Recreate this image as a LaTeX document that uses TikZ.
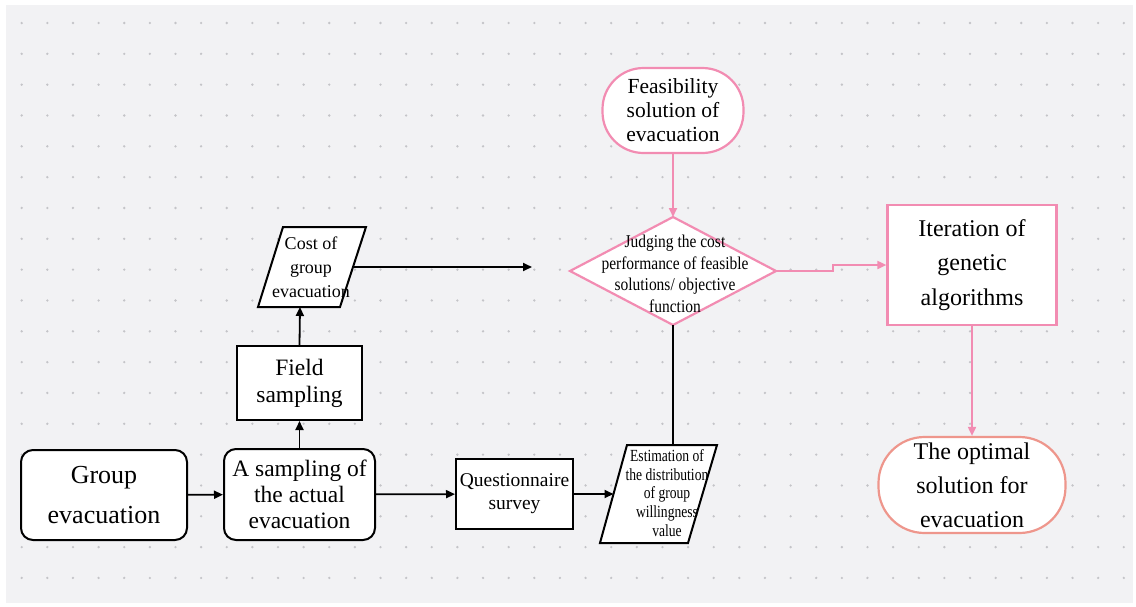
\documentclass[tikz,border=0pt]{standalone}
\usepackage{fontspec}
\setmainfont{Liberation Serif}
\newfontfamily\condfont{Liberation Serif}[FakeStretch=0.86]
\newfontfamily\narrowfont{Liberation Serif}[FakeStretch=0.8]
\usetikzlibrary{arrows.meta,calc}
\definecolor{bgc}{RGB}{242,242,244}
\definecolor{dotc}{RGB}{196,196,200}
\definecolor{pinkc}{RGB}{242,140,178}
\definecolor{coralc}{RGB}{238,150,140}
\begin{document}
\begin{tikzpicture}[x=1pt,y=-1pt,
 blk/.style={draw=black,line width=2pt,fill=white,inner sep=0pt,align=center},
 pnk/.style={draw=pinkc,line width=2.2pt,fill=white,inner sep=0pt,align=center},
 arr/.style={line width=1.8pt,-{Triangle[length=9pt,width=8pt]}},
 parr/.style={draw=pinkc,line width=1.8pt,-{Triangle[length=9pt,width=8pt]}},
 txt/.style={inner sep=0pt,align=center}]
\useasboundingbox (0,0) rectangle (1136,606);
\fill[white] (0,0) rectangle (1136,606);
\fill[bgc] (6,5) rectangle (1133,603);
\foreach \i in {0,...,43}{\foreach \j in {0,...,18}{\fill[dotc] (21.7+25.63*\i, 23+30.83*\j) circle[radius=1.3pt];}}

% black boxes
\node[blk,rounded corners=12pt,minimum width=166pt,minimum height=90pt,font=\fontsize{26}{40}\selectfont] (group) at (104,495) {Group\\evacuation};
\node[blk,rounded corners=12pt,minimum width=151pt,minimum height=91pt,font=\fontsize{23.5}{26}\selectfont] (samp) at (299.5,494.5) {A sampling of\\the actual\\evacuation};
\node[blk,minimum width=125pt,minimum height=74pt,font=\fontsize{23.5}{27}\selectfont] (field) at (299.5,383) {Field\\sampling};
\node[blk,minimum width=117pt,minimum height=70pt,font=\fontsize{19.5}{23}\selectfont] (quest) at (514.5,494) {Questionnaire\\survey};

% cost parallelogram
\draw[line width=2pt,fill=white] (283,227) -- (366,227) -- (340,307) -- (258,307) -- cycle;
\node[txt,font=\fontsize{18}{24}\selectfont] (cost) at (311,267) {Cost of\\group\\evacuation};
\coordinate (costS) at (300,307);
\coordinate (costE) at (353,267);
\coordinate (costT) at (532,267);

% estimation parallelogram
\draw[line width=2pt,fill=white] (627,445) -- (717,445) -- (688,543) -- (600,543) -- cycle;
\node[txt,font=\narrowfont\fontsize{17}{18.8}\selectfont] (est) at (667,493) {Estimation of\\the distribution\\of group\\willingness\\value};
\coordinate (estN) at (673,445);
\coordinate (estW) at (613.5,494);

% pink shapes
\node[pnk,rounded corners=41pt,minimum width=141pt,minimum height=85pt,font=\fontsize{21.5}{24}\selectfont] (feas) at (673,110.5) {Feasibility\\solution of\\evacuation};
\draw[draw=pinkc,line width=2.2pt,fill=white] (673,217) -- (776,271) -- (673,325) -- (570,271) -- cycle;
\node[txt,font=\condfont\fontsize{18}{21.5}\selectfont] (judge) at (675,274) {Judging the cost\\performance of feasible\\solutions/ objective\\function};
\coordinate (dN) at (673,217);
\coordinate (dS) at (673,325);
\coordinate (dE) at (776,271);
\node[pnk,minimum width=169pt,minimum height=120pt,font=\fontsize{24}{34.5}\selectfont] (iter) at (972,265) {Iteration of\\genetic\\algorithms};
\node[draw=coralc,line width=2.2pt,fill=white,inner sep=0pt,align=center,rounded corners=46pt,minimum width=187pt,minimum height=96pt,font=\fontsize{24}{34}\selectfont] (opt) at (972,485) {The optimal\\solution for\\evacuation};

% connectors
\draw[arr] (group) -- (samp);
\draw[arr] (samp) -- (quest);
\draw[arr] (quest.east) -- (estW);
\draw[arr] (samp) -- (field);
\draw[arr] (field.north) -- (costS);
\draw[arr] (costE) -- (costT);
\draw[parr] (feas.south) -- (dN);
\draw[line width=1.8pt] (dS) -- (estN);
\draw[parr] (dE) -- ++(57,0) |- (iter.west);
\draw[parr] (iter) -- (opt);
\end{tikzpicture}
\end{document}
